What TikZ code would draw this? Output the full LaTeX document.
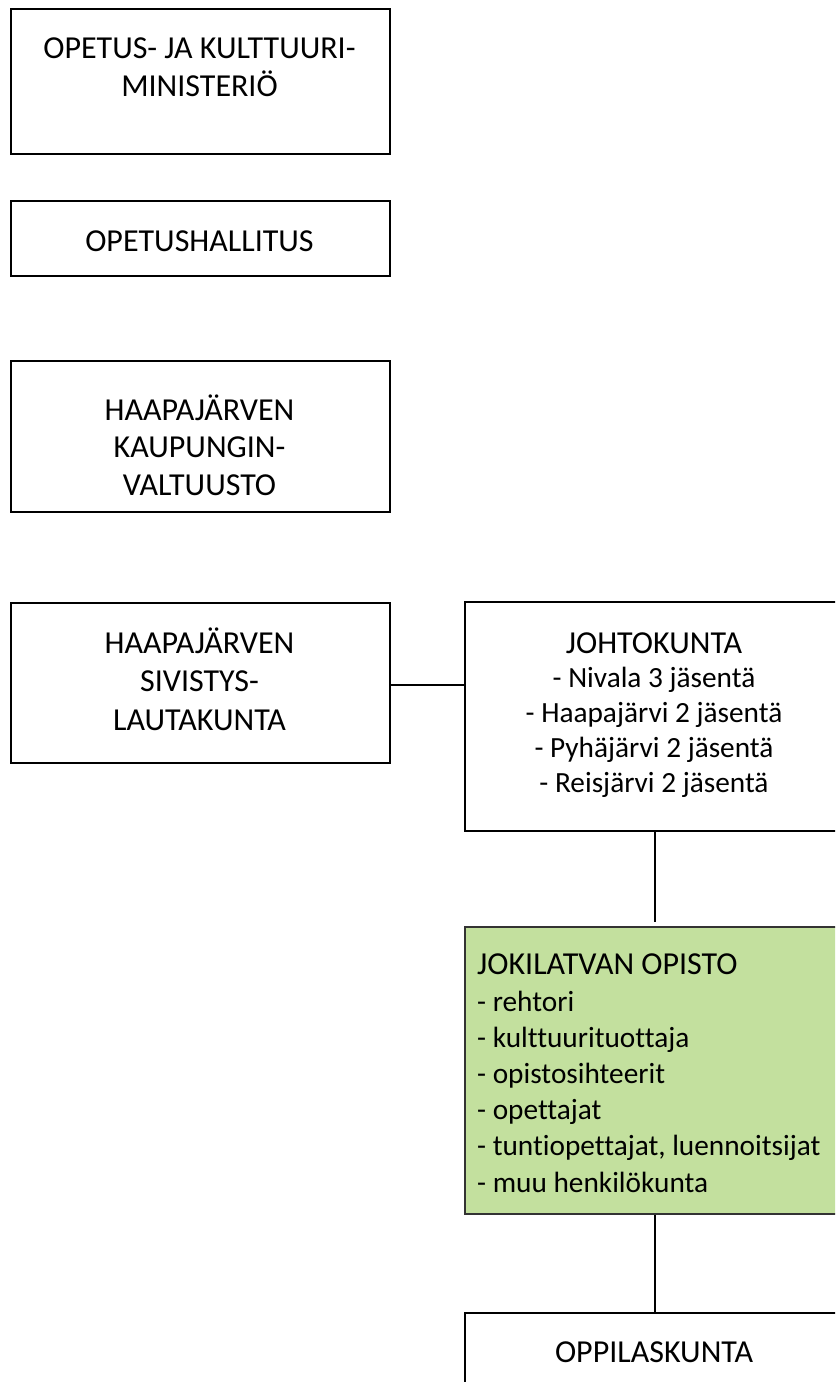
\documentclass[tikz,border=0pt]{standalone}
\usepackage{fontspec}
\setmainfont{Carlito}[Ligatures=NoCommon]
\definecolor{boxgreen}{HTML}{C3E09E}
\begin{document}
\begin{tikzpicture}[x=1bp,y=-1bp,
  box/.style={draw=black, line width=1.8bp, inner sep=0pt, anchor=north west},
  lbl/.style={inner sep=0pt, anchor=base, font=\fontsize{32bp}{38bp}\selectfont, align=center},
  conn/.style={draw=black, line width=2bp}]
\newcommand\hd[1]{{\fontsize{32bp}{34bp}\selectfont #1}}
\useasboundingbox (0,0) rectangle (835,1382);
\clip (0,0) rectangle (835,1382);
\fill[white] (0,0) rectangle (835,1382);
\node[box, minimum width=379bp, minimum height=145bp] (b1) at (10,8) {};
\node[box, minimum width=379bp, minimum height=75bp] (b2) at (10,200) {};
\node[box, minimum width=379bp, minimum height=151bp] (b3) at (10,360) {};
\node[box, minimum width=379bp, minimum height=160bp] (b4) at (10,602) {};
\node[box, minimum width=380bp, minimum height=229bp] (johto) at (464,601) {};
\node[box, fill=boxgreen, draw=black!80, minimum width=380bp, minimum height=287bp] (green) at (464,926) {};
\node[box, minimum width=380bp, minimum height=100bp] (oppi) at (464,1312) {};

\node[lbl] (t1) at (199.5,97) {OPETUS- JA KULTTUURI-\\MINISTERIÖ};
\node[lbl] (t2) at (199.5,252) {OPETUSHALLITUS};
\node[lbl, font=\fontsize{32bp}{37.5bp}\selectfont] (t3) at (199.5,495) {HAAPAJÄRVEN\\KAUPUNGIN-\\VALTUUSTO};
\node[lbl, font=\fontsize{32bp}{38.5bp}\selectfont] (t4) at (199.5,730) {HAAPAJÄRVEN\\SIVISTYS-\\LAUTAKUNTA};
\node[lbl, font=\fontsize{29.3bp}{34.75bp}\selectfont] (t5) at (654,792) {\hd{JOHTOKUNTA}\\- Nivala 3 jäsentä\\- Haapajärvi 2 jäsentä\\- Pyhäjärvi 2 jäsentä\\- Reisjärvi 2 jäsentä};
\node[lbl, anchor=base west, align=left, font=\fontsize{29.3bp}{36.2bp}\selectfont] (t6) at (477,1192) {\hd{JOKILATVAN OPISTO}\\- rehtori\\- kulttuurituottaja\\- opistosihteerit\\- opettajat\\- tuntiopettajat, luennoitsijat\\- muu henkilökunta};
\node[lbl] (t7) at (654,1362) {OPPILASKUNTA};

\draw[conn] (b4.east |- 0,685) -- (johto.west |- 0,685);
\draw[conn] (johto.south) -- ([yshift=4bp]green.north);
\draw[conn] (green.south) -- (oppi.north);
\end{tikzpicture}
\end{document}
